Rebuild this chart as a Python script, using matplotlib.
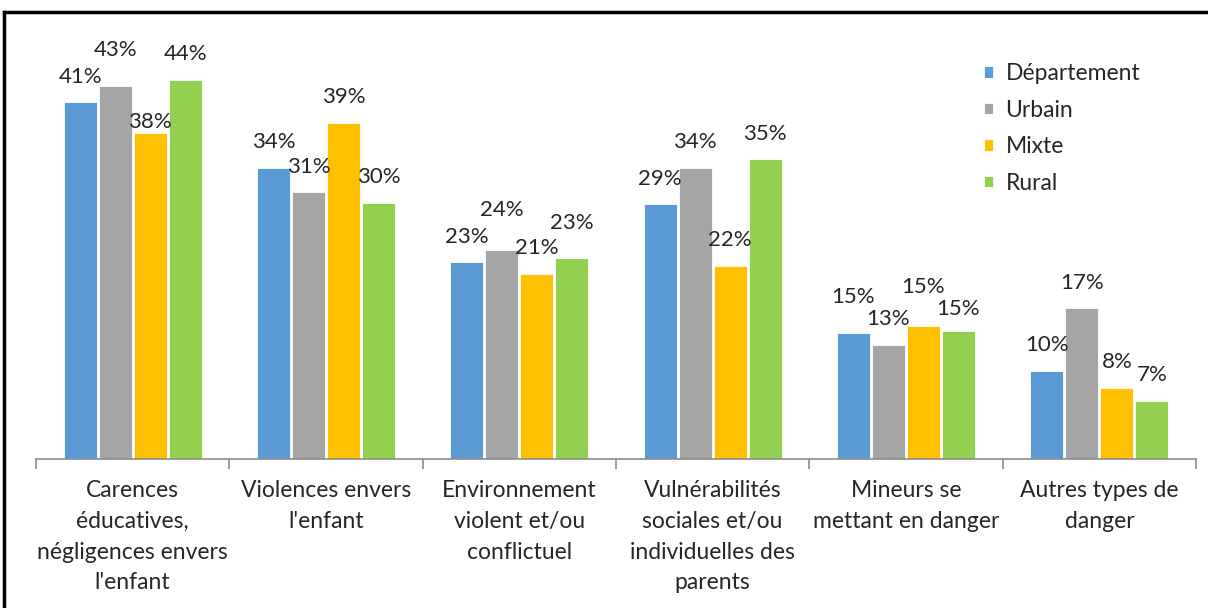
import numpy as np
import matplotlib.pyplot as plt
from matplotlib.lines import Line2D

# categories and series (percent)
categories = [
    "Carences\néducatives,\nnégligences envers\nl'enfant",
    "Violences envers\nl'enfant",
    "Environnement\nviolent et/ou\nconflictuel",
    "Vulnérabilités\nsociales et/ou\nindividuelles des\nparents",
    "Mineurs se\nmettant en danger",
    "Autres types de\ndanger",
]
series_names = ["Département", "Urbain", "Mixte", "Rural"]
departement = [41.2, 33.6, 22.7, 29.4, 14.6, 10.2]
urbain = [43.1, 30.8, 24.2, 33.6, 13.2, 17.4]
mixte = [37.6, 38.8, 21.4, 22.3, 15.4, 8.2]
rural = [43.8, 29.6, 23.2, 34.6, 14.8, 6.7]

colors = ["#5B9BD5", "#A5A5A5", "#FFC000", "#92D050"]

# extra vertical shift (points) for labels that were moved by hand in the original
label_shift = {(1, 0): 7, (2, 0): -10, (1, 2): 10, (3, 2): 7,
               (0, 4): 7, (2, 4): 9, (3, 4): -3}

plt.rcParams['font.family'] = ['Lato', 'DejaVu Sans']

fig = plt.figure(figsize=(12.08, 6.08), dpi=100)
ax = fig.add_axes([36 / 1208, 1 - 459 / 608, 1160 / 1208, 419 / 608])

x = np.arange(len(categories))
step = 0.181
width = 0.172
all_series = [departement, urbain, mixte, rural]
for i, (name, vals) in enumerate(zip(series_names, all_series)):
    pos = x + (i - 1.5) * step
    bars = ax.bar(pos, vals, width=width, color=colors[i], label=name,
                  edgecolor='white', linewidth=0.6)
    for j, (b, v) in enumerate(zip(bars, vals)):
        ax.annotate(f"{v:.0f}%", (b.get_x() + b.get_width() / 2, v),
                    xytext=(0, 18.5 + label_shift.get((i, j), 0)),
                    textcoords='offset points', ha='center', va='center',
                    fontsize=16, color='#262626')

ax.set_xlim(-0.5, len(categories) - 0.5)
ax.set_ylim(0, 48.4)
ax.set_yticks([])
for s in ['top', 'right', 'left']:
    ax.spines[s].set_visible(False)
ax.spines['bottom'].set_color('#8C8C8C')
ax.spines['bottom'].set_linewidth(1.2)

ax.set_xticks(x)
ax.set_xticklabels(categories, fontsize=16.5, color='#262626', linespacing=1.58)
ax.tick_params(axis='x', which='major', length=0, pad=15)
ax.set_xticks(np.arange(-0.5, len(categories)), minor=True)
ax.tick_params(axis='x', which='minor', length=7, color='#8C8C8C', width=1.2)

ax.legend(loc='upper left', bbox_to_anchor=(927 / 1160, 0.994), frameon=False,
          fontsize=16.5, handlelength=0.4, handleheight=0.4,
          handletextpad=0.55, labelspacing=0.68, labelcolor='#262626')

# outer frame of the chart object
fig.add_artist(Line2D([4 / 1208, 4 / 1208], [0, 1 - 12 / 608], color='black', lw=2.5))
fig.add_artist(Line2D([4 / 1208, 1], [1 - 12 / 608, 1 - 12 / 608], color='black', lw=2.5))

fig.savefig("out.png", dpi=100)
